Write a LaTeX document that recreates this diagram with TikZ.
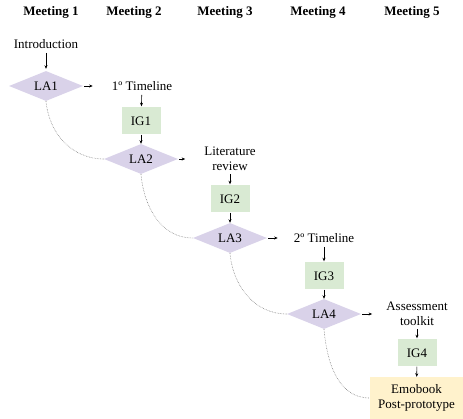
\documentclass[tikz,border=0pt]{standalone}
\usepackage{fontspec}
\setmainfont{Liberation Serif}
\usepackage{tikz}
\usetikzlibrary{positioning,calc,shapes.geometric,arrows.meta}

\definecolor{lagray}{RGB}{217,210,233}
\definecolor{iggreen}{RGB}{217,234,211}
\definecolor{finyellow}{RGB}{255,242,204}

\begin{document}
\begin{tikzpicture}[x=1pt,y=-1pt]

% ---- Styles ----
\tikzset{
  every node/.style={font=\fontsize{13}{15}\selectfont},
  header/.style={font=\fontsize{13}{15}\selectfont\bfseries},
  label/.style={align=center, inner sep=2pt},
  labox/.style={diamond, fill=lagray, inner sep=1pt, aspect=2.5,
                minimum width=74pt, minimum height=30pt},
  igbox/.style={rectangle, fill=iggreen, minimum width=39pt, minimum height=27pt},
  finbox/.style={rectangle, fill=finyellow, align=center,
                 minimum width=93pt, minimum height=42pt},
  arr/.style={-{Stealth[length=3.5pt,width=3pt]}, line width=0.6pt},
  dotline/.style={densely dotted, gray, line width=0.6pt},
}

\useasboundingbox (0,0) rectangle (463,419);

% --- Header row ---
\node[header] (m1) at (51,12)  {Meeting 1};
\node[header] (m2) at (134,12) {Meeting 2};
\node[header] (m3) at (225,12) {Meeting 3};
\node[header] (m4) at (318,12) {Meeting 4};
\node[header] (m5) at (412,12) {Meeting 5};

% --- Meeting 1 ---
\node[label]  (intro) at (46,44) {Introduction};
\node[labox]  (la1)   at (46,86) {LA1};

% --- Meeting 2 ---
\node[label]  (tl1)   at (142,86)  {1º Timeline};
\node[igbox]  (ig1)   at (141,121) {IG1};
\node[labox]  (la2)   at (141,159) {LA2};

% --- Meeting 3 ---
\node[label]  (litrev) at (230,159) {Literature\\review};
\node[igbox]  (ig2)    at (230,199) {IG2};
\node[labox]  (la3)    at (230,238) {LA3};

% --- Meeting 4 ---
\node[label]  (tl2)   at (324,238) {2º Timeline};
\node[igbox]  (ig3)   at (324,276) {IG3};
\node[labox]  (la4)   at (324,314) {LA4};

% --- Meeting 5 ---
\node[label]  (toolkit) at (417,314) {Assessment\\toolkit};
\node[igbox]  (ig4)     at (417,353) {IG4};
\node[finbox] (emobook) at (416.5,398) {Emobook\\Post-prototype};

% --- Arrows down ---
\draw[arr, shorten <=2pt, shorten >=2pt] (intro) -- (la1);
\draw[arr, shorten <=2pt, shorten >=1pt] (tl1) -- (ig1);
\draw[arr] (ig1) -- (la2);
\draw[arr, shorten <=1pt, shorten >=1pt] (litrev) -- (ig2);
\draw[arr] (ig2) -- (la3);
\draw[arr, shorten <=2pt, shorten >=1pt] (tl2) -- (ig3);
\draw[arr] (ig3) -- (la4);
\draw[arr, shorten <=1pt, shorten >=1pt] (toolkit) -- (ig4);
\draw[arr] (ig4) -- (emobook);

% --- Arrows right (stop short of the label) ---
\draw[arr, shorten <=1pt, shorten >=17pt] (la1) -- (tl1);
\draw[arr, shorten <=1pt, shorten >=17pt] (la2) -- (litrev);
\draw[arr, shorten <=1pt, shorten >=14pt] (la3) -- (tl2);
\draw[arr, shorten <=1pt, shorten >=12pt] (la4) -- (toolkit);

% --- Dotted links to next meeting ---
\draw[dotline] (la1.south) to[out=-85,in=180] (la2.west);
\draw[dotline] (la2.south) to[out=-85,in=180] (la3.west);
\draw[dotline] (la3.south) to[out=-85,in=180] (la4.west);
\draw[dotline] (la4.south) to[out=-85,in=180] (emobook.west);

\end{tikzpicture}
\end{document}
